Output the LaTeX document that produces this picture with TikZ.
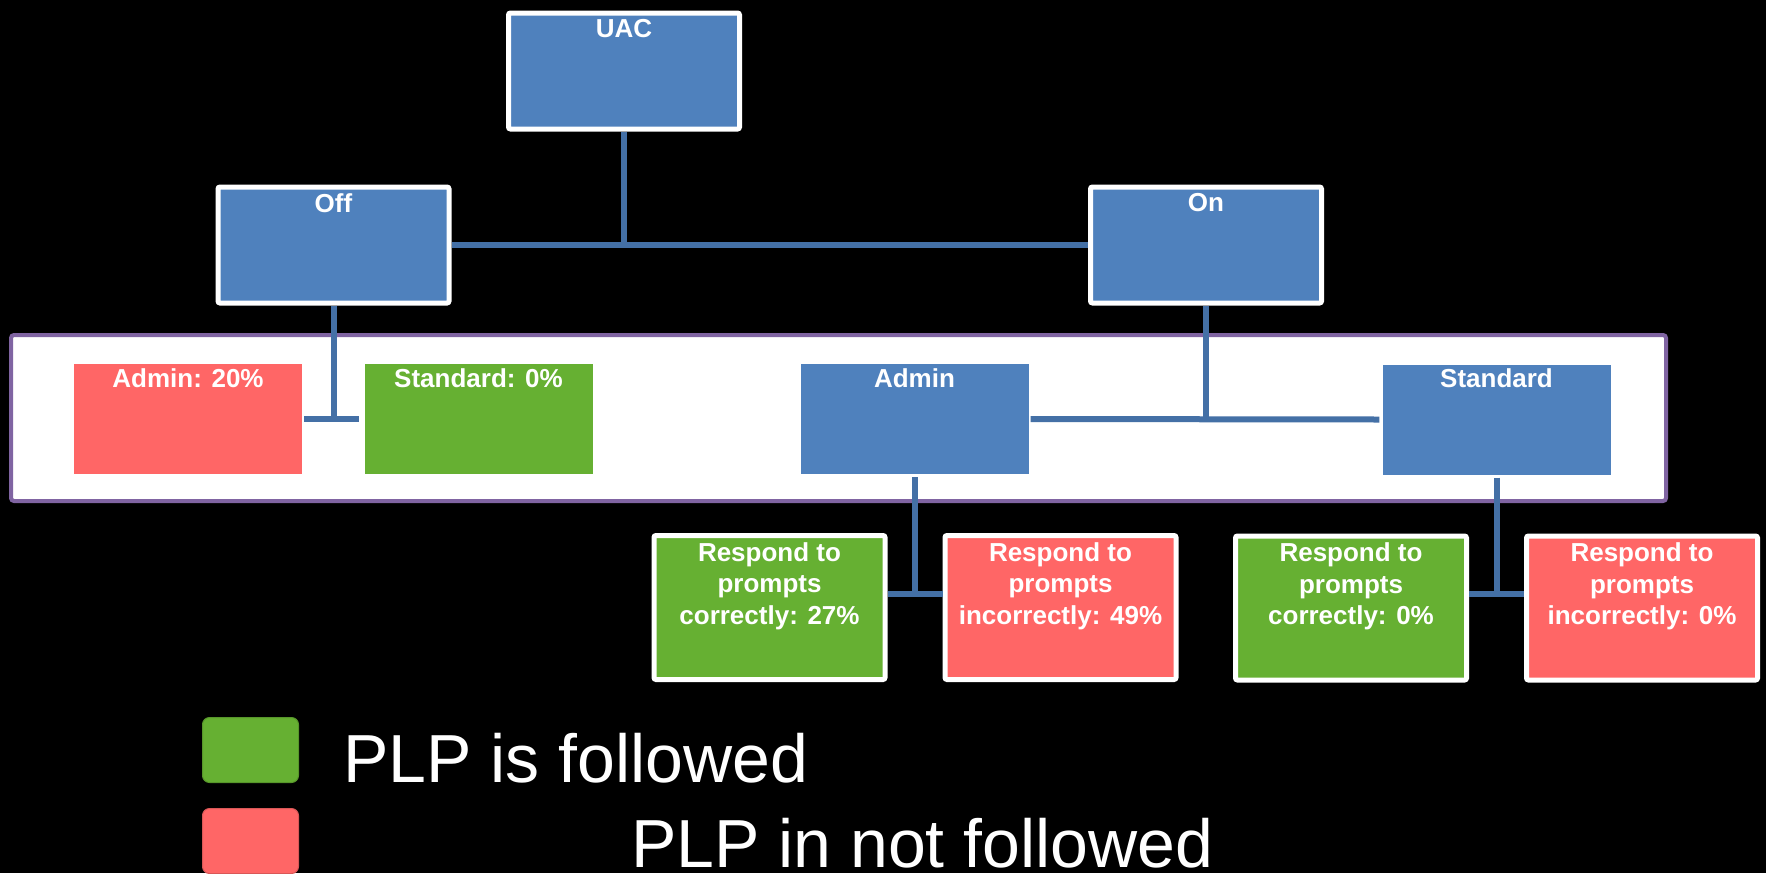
\documentclass[tikz,border=0pt]{standalone}
\usepackage{fontspec}
\setmainfont{Liberation Sans}
\definecolor{bluefill}{HTML}{4F81BD}
\definecolor{connblue}{RGB}{68,112,166}
\definecolor{greenfill}{HTML}{66B032}
\definecolor{redfill}{HTML}{FF6666}
\definecolor{framepurple}{HTML}{8064A2}
\begin{document}
\begin{tikzpicture}[x=1pt,y=-1pt,
  box/.style={rectangle, inner sep=0pt},
  bordered/.style={box, draw=white, line width=5pt, rounded corners=2pt},
  topbox/.style={bordered, fill=bluefill, minimum width=231pt, minimum height=116pt},
  innerbox/.style={box, minimum width=228pt, minimum height=110pt},
  leafbox/.style={bordered, minimum width=231pt, minimum height=144pt},
  txt/.style={text=white, font=\bfseries\fontsize{26}{31.5}\selectfont, align=center, inner sep=0pt, anchor=north},
  conn/.style={draw=connblue, line width=6pt},
  legbox/.style={rectangle, rounded corners=7pt, minimum width=96pt, minimum height=65pt, line width=1pt},
  legtxt/.style={text=white, font=\fontsize{68}{80}\selectfont, inner sep=0pt, anchor=base west}
]
\fill[black] (0,0) rectangle (1766,873);
\useasboundingbox (0,0) rectangle (1766,873);

% frame
\node[box, draw=framepurple, fill=white, line width=4pt, rounded corners=3pt,
      minimum width=1655pt, minimum height=166pt] (frame) at (838.5,418) {};

% top level
\node[topbox] (uac) at (624,71) {};
\node[topbox] (off) at (333.5,245) {};
\node[topbox] (on) at (1206,245) {};

% inner boxes
\node[innerbox, fill=redfill] (admin20) at (188,419) {};
\node[innerbox, fill=greenfill] (std0) at (478.5,419) {};
\node[innerbox, fill=bluefill] (admin) at (914.5,419) {};
\node[innerbox, fill=bluefill] (standard) at (1496.5,419.5) {};

% leaf boxes
\node[leafbox, fill=greenfill] (ac) at (769.5,607.5) {};
\node[leafbox, fill=redfill] (ai) at (1060.5,607.5) {};
\node[leafbox, fill=greenfill] (sc) at (1351,608) {};
\node[leafbox, fill=redfill] (si) at (1642,608) {};

% connectors
\coordinate (j1) at (uac.south |- off.east);
\draw[conn] (uac.south) -- (j1);
\draw[conn] (off.east) -- (on.west);
\coordinate (j2) at (off.south |- admin20.east);
\draw[conn] (off.south) -- (j2);
\draw[conn] ([xshift=2pt]admin20.east) -- ([xshift=-5pt]std0.west);
\coordinate (j3) at (on.south |- admin.east);
\draw[conn] (on.south) -- (j3);
\draw[conn] ([xshift=2pt]admin.east) -- ([xshift=-3pt]standard.west);
\coordinate (j4) at (914.5,594);
\draw[conn] ([yshift=-3pt]admin.south) -- (j4);
\draw[conn] (ac.east |- j4) -- (ai.west |- j4);
\coordinate (j5) at (1496.5,594);
\draw[conn] ([yshift=-3pt]standard.south) -- (j5);
\draw[conn] (sc.east |- j5) -- (si.west |- j5);

% texts
\node[txt] (uact) at ([yshift=-9pt]uac.north) {UAC};
\node[txt] (offt) at ([yshift=-9pt]off.north) {Off};
\node[txt] (ont) at ([yshift=-9pt]on.north) {On};
\node[txt] (admin20t) at ([yshift=-4.5pt]admin20.north) {Admin: 20\%};
\node[txt] (std0t) at ([yshift=-4.5pt]std0.north) {Standard: 0\%};
\node[txt] (admint) at ([yshift=-4.5pt]admin.north) {Admin};
\node[txt] (standardt) at ([yshift=-4.5pt]standard.north) {Standard};
\node[txt] (act) at ([yshift=-9.3pt]ac.north) {Respond to\\prompts\\correctly: 27\%};
\node[txt] (ait) at ([yshift=-9.3pt]ai.north) {Respond to\\prompts\\incorrectly: 49\%};
\node[txt] (sct) at ([yshift=-9.3pt]sc.north) {Respond to\\prompts\\correctly: 0\%};
\node[txt] (sit) at ([yshift=-9.3pt]si.north) {Respond to\\prompts\\incorrectly: 0\%};

% legend
\node[legbox, fill=greenfill, draw=greenfill!85!black] (leggreen) at (250.5,750) {};
\node[legbox, fill=redfill, draw=redfill!85!black] (legred) at (250.5,841) {};
\node[legtxt] (legt1) at (343,782) {PLP is followed};
\node[legtxt] (legt2) at (631,867) {PLP in not followed};
\end{tikzpicture}
\end{document}
